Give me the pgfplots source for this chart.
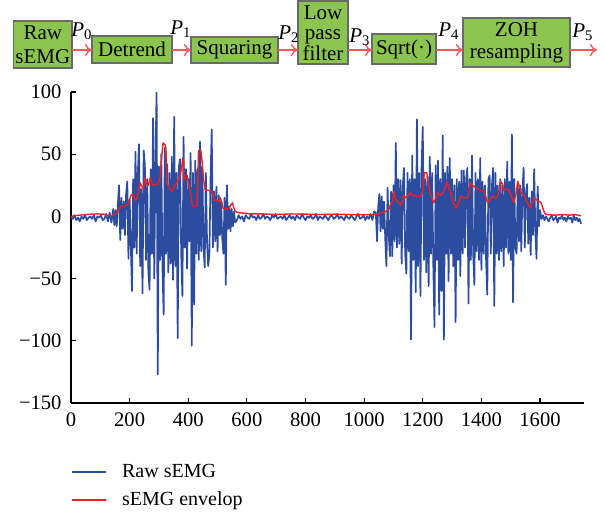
\documentclass[border=0pt]{standalone}
\usepackage{fontspec}
\setmainfont{Liberation Serif}
\usepackage{pgfplots}
\pgfplotsset{compat=1.18}
\usetikzlibrary{arrows.meta}
\definecolor{semgblue}{RGB}{44,76,160}
\definecolor{semgred}{RGB}{236,32,38}
\definecolor{boxgreen}{RGB}{140,196,80}
\definecolor{boxedge}{RGB}{105,105,105}
\definecolor{arrred}{RGB}{240,90,90}
\begin{document}
\begin{tikzpicture}
\useasboundingbox (0pt,0pt) rectangle (302.5pt,258pt);
% ---- flow diagram ----
\tikzset{blk/.style={draw=boxedge, fill=boxgreen, line width=0.6pt},
         arr/.style={draw=arrred, line width=0.7pt, -{To[length=3.5pt,width=6pt]}},
         btxt/.style={align=center, inner sep=0pt, font=\fontsize{10.5}{11}\selectfont},
         plab/.style={inner sep=0pt, font=\fontsize{10.5}{12}\selectfont}}
\draw[blk] (6.8pt,224pt) rectangle (36pt,247.5pt);
\node[btxt, font=\fontsize{10.5}{12}\selectfont] at (21.4pt,235.5pt) {Raw\\sEMG};
\draw[blk] (46pt,226.5pt) rectangle (86pt,240pt);
\node[btxt] at (66pt,233.2pt) {Detrend};
\draw[blk] (95.5pt,226.5pt) rectangle (139pt,239.5pt);
\node[btxt] at (117.25pt,233pt) {Squaring};
\draw[blk] (149pt,226pt) rectangle (174pt,257.5pt);
\node[btxt, font=\fontsize{10.5}{10.3}\selectfont] at (161.5pt,241.5pt) {Low\\pass\\filter};
\draw[blk] (186pt,226pt) rectangle (218pt,241pt);
\node[btxt] at (202pt,233.5pt) {Sqrt(·)};
\draw[blk] (231.5pt,224.5pt) rectangle (285pt,249pt);
\node[btxt, font=\fontsize{10.5}{11}\selectfont] at (258.25pt,236.5pt) {ZOH\\resampling};
\draw[arr] (36pt,233pt) -- (46pt,233pt);
\draw[arr] (86pt,233pt) -- (95.5pt,233pt);
\draw[arr] (139pt,233pt) -- (149pt,233pt);
\draw[arr] (174pt,233pt) -- (186pt,233pt);
\draw[arr] (218pt,233pt) -- (231.5pt,233pt);
\draw[arr] (285pt,233pt) -- (298.5pt,233pt);
\node[plab] at (41pt,242.5pt) {\textit{P}\textsubscript{0}};
\node[plab] at (90.5pt,243.5pt) {\textit{P}\textsubscript{1}};
\node[plab] at (144.5pt,241pt) {\textit{P}\textsubscript{2}};
\node[plab] at (180pt,239.5pt) {\textit{P}\textsubscript{3}};
\node[plab] at (224.5pt,242.5pt) {\textit{P}\textsubscript{4}};
\node[plab] at (291.5pt,242pt) {\textit{P}\textsubscript{5}};
% ---- chart ----
\begin{axis}[
  at={(35.5pt,56.5pt)}, anchor=south west,
  width=256.5pt, height=155.5pt, scale only axis,
  xmin=0, xmax=1750, ymin=-150, ymax=100,
  axis x line*=bottom, axis y line*=left,
  axis line style={-, line width=0.6pt, black},
  tick align=inside, major tick length=2.5pt,
  tick style={line width=0.6pt, black},
  xtick={0,200,400,600,800,1000,1200,1400,1600},
  ytick={-150,-100,-50,0,50,100},
  yticklabels={−150,−100,−50,0,50,100},
  /pgf/number format/assume math mode=true,
  /pgf/number format/1000 sep={},
  tick label style={font=\fontsize{10.3}{12}\selectfont},
  xticklabel style={yshift=-1.2pt},
  yticklabel style={xshift=-1.2pt},
  legend cell align=left,
  legend style={draw=none, fill=none, at={(0,-0.267)}, anchor=west, inner sep=0pt,
    row sep=3pt, column sep=6.5pt,
    nodes={inner sep=1pt, text height=7pt, text depth=2pt, font=\fontsize{10}{12}\selectfont}},
  legend image code/.code={\draw[#1] (0pt,0pt) -- (17pt,0pt);},
]
\addplot[color=semgblue, line width=0.85pt, line join=round] table {
x y
0 -1
6 -2
12 1
18 -3
24 -1
30 -4
36 0
42 -2
48 1
54 -3
60 -1
66 0
72 -2
78 1
84 -4
90 0
96 -1
102 1
108 -3
114 -2
120 2
126 -4
132 3
138 -5
144 6
148 -7
152 5
156 -8
160 10
164 25
168 -19
172 15
176 -10
180 12
184 -15
188 18
192 28
196 -34
200 14
204 -22
208 -60
212 30
216 -25
220 52
224 -30
228 35
232 58
236 -40
240 22
244 -62
248 53
252 41
256 -35
260 30
264 -45
268 -59
272 38
276 -30
280 79
284 -50
288 45
292 100
296 -127
300 40
304 -35
308 50
312 -40
316 -79
320 55
324 -30
328 42
332 -45
336 35
340 -38
344 48
348 -51
352 80
356 -40
360 35
364 -98
368 40
372 46
376 -30
380 -64
384 64
388 -25
392 38
396 -42
400 30
404 -20
408 51
412 -104
416 35
420 -71
424 45
428 -30
432 38
436 -35
440 60
444 -28
448 40
452 -25
456 -41
460 35
464 -20
468 -40
472 -31
476 30
480 70
484 -25
488 20
492 -20
496 24
500 -28
504 17
508 -15
512 12
516 -18
520 -30
524 15
528 -55
532 25
536 -10
540 8
544 -12
548 6
552 -8
556 4
560 -5
566 -3
572 1
578 -2
584 0
590 -4
596 1
602 -1
608 -2
614 2
620 -1
626 0
632 -3
638 1
644 -2
650 -1
656 2
662 -2
668 0
674 -1
680 -3
686 1
692 -1
698 2
704 -2
710 -1
716 0
722 -2
728 1
734 -3
740 -1
746 1
752 -2
758 0
764 -3
770 1
776 -1
782 -2
788 2
794 -1
800 -3
806 0
812 -1
818 1
824 -2
830 -1
836 2
842 -3
848 0
854 -1
860 -2
866 1
872 -1
878 -3
884 0
890 1
896 -2
902 -1
908 2
914 -2
920 0
926 -1
932 -3
938 1
944 -1
950 -2
956 1
962 -1
968 -3
974 0
980 2
986 -2
992 -1
998 1
1004 -3
1010 0
1016 -2
1022 2
1028 -3
1034 4
1040 3
1044 -20
1048 8
1052 18
1056 -12
1060 16
1064 -10
1068 12
1072 -18
1076 -40
1080 23
1084 -15
1088 -32
1092 20
1096 -32
1100 25
1104 -20
1108 59
1112 -25
1116 30
1120 -22
1124 29
1128 -38
1132 25
1136 39
1140 -30
1144 -46
1148 35
1152 -28
1156 30
1160 -99
1164 49
1168 -35
1172 30
1176 -61
1180 78
1184 -40
1188 35
1192 -64
1196 40
1200 72
1204 -35
1208 30
1212 -45
1216 32
1220 -56
1224 48
1228 -30
1232 35
1236 -40
1240 -89
1244 41
1248 -35
1252 45
1256 -79
1260 30
1264 -60
1268 65
1272 -99
1276 35
1280 -30
1284 40
1288 -52
1292 47
1296 -30
1300 30
1304 -40
1308 25
1312 -85
1316 30
1320 -35
1324 28
1328 -48
1332 37
1336 -30
1340 37
1344 -25
1348 30
1352 39
1356 -70
1360 30
1364 -35
1368 49
1372 -30
1376 -55
1380 35
1384 -28
1388 30
1392 -35
1396 47
1400 -43
1404 28
1408 -30
1412 25
1416 -35
1420 -63
1424 30
1428 33
1432 -30
1436 25
1440 39
1444 -72
1448 35
1452 -30
1456 25
1460 -35
1464 30
1468 -28
1472 25
1476 -40
1480 30
1484 -25
1488 44
1492 -30
1496 28
1500 -35
1504 66
1508 -69
1512 30
1516 -25
1520 -30
1524 28
1528 -20
1532 25
1536 -28
1540 20
1544 39
1548 -25
1552 18
1556 26
1560 -22
1564 15
1568 -31
1572 20
1576 -15
1580 38
1584 -12
1588 -34
1592 24
1596 -8
1600 5
1605 -2
1610 1
1615 -3
1620 0
1625 -2
1630 -4
1635 -1
1640 1
1645 -3
1650 -2
1655 0
1660 -5
1665 -1
1670 -2
1675 1
1680 -3
1685 -1
1690 -4
1695 0
1700 -2
1705 -1
1710 -5
1715 1
1720 -3
1725 -1
1730 -4
1735 -2
1740 -6
};
\addlegendentry{Raw sEMG}
\addplot[color=semgred, line width=0.7pt, line join=round] table {
x y
0 0
10 0.5
30 1
50 1.5
70 1.8
90 2
110 1.8
125 1
135 0.5
145 1
155 3
165 6
170 8
185 8.5
195 10
205 17
212 18
219 13
226 15
236 27
242 24
247 22
253 31
258 26
264 25
270 31
276 26
281 25
290 26
298 26
304 32
310 49
314 59
320 58
324 55
327 27
335 23
344 20
352 24
358 26
363 28
368 30
373 34
378 40
381 47
384 44
386 29
390 31
396 33
400 28
404 24
410 16
414 9
418 8
426 8
430 9
433 30
435 53
443 53
447 45
452 30
458 21
470 21
481 20
485 17
489 13
497 13
504 12
509 15
514 12
518 7
521 6
538 6
545 9
551 11
555 7
561 4
570 3
589 2.6
610 2
650 2
700 1.5
750 2
800 1.8
850 1.5
900 1.8
950 1.5
1000 1.3
1033 1.5
1050 2
1074 4
1085 6
1091 10.6
1097 12
1102 20
1108 14
1114 12
1125 9
1130 12
1136 17
1142 15
1148 16
1157 19
1163 17
1170 17
1180 16
1193 16
1200 20
1205 35
1214 35
1220 24
1227 17
1237 11
1244 14
1250 19
1256 18
1262 17
1272 20
1278 24
1282 28
1288 24
1296 19
1303 12
1313 6.6
1320 10
1330 16
1340 15
1353 15
1358 20
1362 27
1370 25
1381 23
1390 22
1398 21
1410 20
1416 15
1421 11
1430 14
1438 16
1446 15
1453 15
1460 20
1466 28
1472 26
1476 21
1484 22
1495 21
1502 16
1510 11
1518 18
1524 28
1530 24
1535 19
1546 17
1555 12
1567 6.6
1574 11
1580 15
1590 13
1598 12
1604 11
1609 7
1615 3
1621 1.5
1650 1
1680 1.5
1700 1
1720 1.5
1740 0.5
};
\addlegendentry{sEMG envelop}
\end{axis}
\end{tikzpicture}
\end{document}
